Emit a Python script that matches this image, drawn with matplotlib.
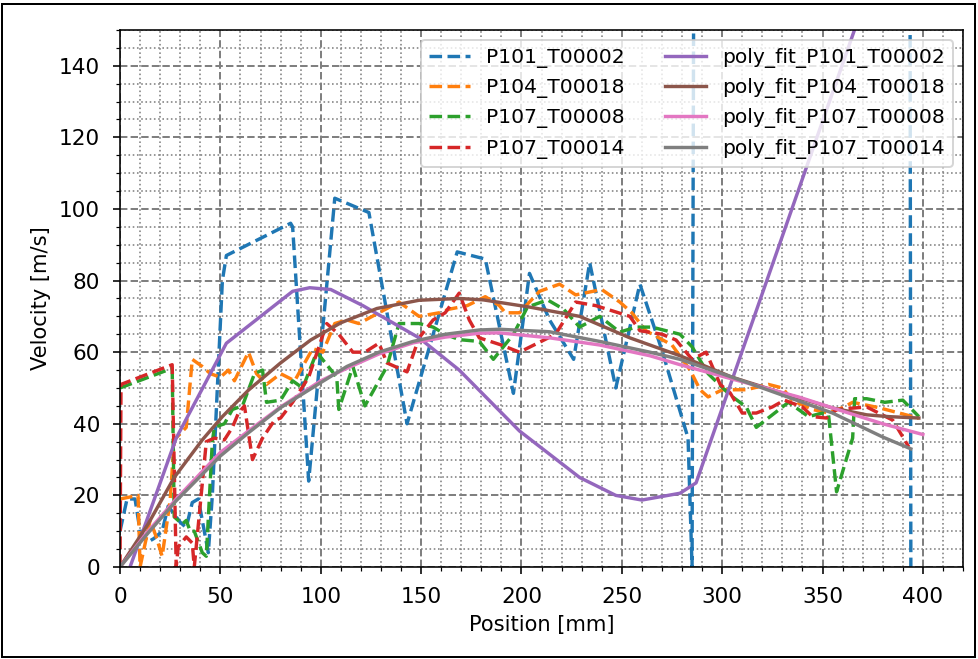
import matplotlib
matplotlib.use("Agg")
from matplotlib import pyplot as plt
from matplotlib.patches import Rectangle
from matplotlib.ticker import MultipleLocator

# measured velocity profiles (position mm, velocity m/s)
p101_t00002 = [(0, 10), (3.5, 19), (7.5, 19), (10, 10), (14, 7), (17, 8), (21, 10), (24, 17),
               (30, 12.5), (33, 11), (36, 18), (39, 19), (42, 10), (44, 4), (46, 20), (51, 80),
               (53, 87), (85, 96), (86, 95), (94, 24), (107, 103), (124, 99), (143, 40),
               (168, 88), (182, 86), (196, 48.5), (204, 82), (214, 69), (226, 58), (234, 85),
               (247, 50), (259, 79), (270, 60.5), (283, 36), (285, 0), (287, 400), (393, 400),
               (394, 0)]
p104_t00018 = [(0, 19), (9, 20), (10, 0), (15, 13), (18, 8.5), (21, 3), (25, 18.7), (27, 35.5),
               (33, 39), (36, 58), (41, 56), (45, 54), (50, 53), (54, 55), (57, 52), (64, 60),
               (68, 54), (73, 51), (80, 54), (87, 52), (96, 61), (101, 60), (107, 68), (113, 69),
               (119, 68), (129, 71), (139, 74), (149, 70), (159, 71), (164, 72), (173, 73),
               (182, 75.5), (189, 73), (192, 71), (199, 71), (209, 77), (219, 79), (227, 76),
               (240, 77.5), (249, 74), (255, 71), (262, 66), (275, 62), (284, 55), (289, 49.5),
               (293, 47.5), (300, 49.5), (312, 49.5), (323, 51), (330, 50), (335, 46.5),
               (345, 44), (353, 43), (360, 44.5), (365, 46), (378, 44.5), (395, 42), (398, 41.5)]
p107_t00008 = [(0, 50), (26, 55.5), (27, 14), (31, 12), (33, 13), (35, 10), (37, 10), (41, 4),
               (43, 3), (46, 35), (47, 39), (52, 40), (56, 44), (61, 45), (67, 54), (71, 55),
               (73, 46), (80, 46.6), (86, 52), (91, 50), (98, 60), (108, 53), (109, 44), (116, 56),
               (122, 45), (133, 56), (139, 68), (149, 68), (156, 67), (162, 65), (169, 63.5),
               (179, 63), (186, 58), (196, 65), (203, 72.6), (213, 74.6), (221, 72), (229, 67),
               (239, 70), (249, 65.6), (257, 67), (265, 67), (272, 66), (279, 65), (285, 61.5),
               (293, 54), (304, 48), (312, 44.7), (317, 39), (325, 42.5), (333, 46), (343, 42),
               (350, 43), (353, 42.5), (357, 21), (365, 36), (366, 47), (372, 47), (381, 46),
               (390, 46.6), (398, 42)]
p107_t00014 = [(0, 0), (0.5, 51), (26, 56.5), (28, 0), (29, 5.6), (33, 8.4), (36, 6.7), (37, 0),
               (43, 35), (47, 36), (52, 35.5), (56, 39), (59, 43), (62, 45), (66, 30), (71, 36),
               (77, 41), (80, 41.6), (86, 46), (94, 53), (103, 68), (109, 65), (116, 60),
               (122, 60), (129, 62.5), (133, 57), (143, 54.5), (149, 64), (156, 69), (162, 71),
               (169, 76.5), (174, 69), (179, 64), (190, 62), (199, 60), (217, 65), (227, 74),
               (237, 73), (254, 70), (259, 66), (270, 65), (277, 63.4), (285, 58), (292, 60),
               (299, 51), (304, 48.6), (310, 43), (317, 43), (325, 44.7), (331, 46.6),
               (340, 44.7), (345, 42), (352, 41.6), (357, 44), (372, 44.7), (385, 41), (393, 33.5)]

# polynomial fits of the profiles above
fit_p101_t00002 = [(0, -8), (5, 0), (28, 36), (53, 62.5), (86, 77), (94.5, 78), (105, 77.5),
                   (121, 73), (149, 64), (169, 55), (199, 38), (229, 25), (247, 20), (260, 18.7),
                   (279, 20.6), (287, 23.5), (394, 195)]
fit_p104_t00018 = [(0, 0), (14, 12), (27, 25), (41, 35.5), (51, 42), (64, 49.4), (80, 57),
                   (95, 63.4), (110, 68.2), (128, 72.2), (149, 74.5), (169, 75), (181, 74.6),
                   (204, 72.6), (229, 70), (254, 64), (279, 59), (305, 53), (330, 48.6),
                   (355, 44.4), (372, 42.5), (383, 42), (398, 41.6)]
fit_p107_t00008 = [(0, 0), (14, 10), (28, 19), (50, 32), (64, 38), (80, 44.7), (100, 52),
                   (113, 55.5), (129, 59.5), (146, 62.6), (162, 64.2), (179, 65.3), (189, 65.4),
                   (214, 64), (239, 62), (264, 59), (279, 56.5), (305, 52.5), (338, 47.5),
                   (363, 43), (380, 40), (400, 37)]
fit_p107_t00014 = [(0, 0), (14, 9.5), (28, 18.5), (50, 31), (64, 37.5), (80, 44.5), (100, 51.5),
                   (113, 56), (129, 60), (146, 63), (162, 65), (179, 66.2), (189, 66.4),
                   (214, 65.7), (239, 63), (264, 60), (279, 58), (305, 53), (330, 48),
                   (355, 43), (380, 36.3), (394, 33)]

measured = {
    "P101_T00002": p101_t00002,
    "P104_T00018": p104_t00018,
    "P107_T00008": p107_t00008,
    "P107_T00014": p107_t00014,
}
fits = {
    "poly_fit_P101_T00002": fit_p101_t00002,
    "poly_fit_P104_T00018": fit_p104_t00018,
    "poly_fit_P107_T00008": fit_p107_t00008,
    "poly_fit_P107_T00014": fit_p107_t00014,
}

plt.rcParams["xtick.labelsize"] = 10.8
plt.rcParams["ytick.labelsize"] = 10.8
plt.rcParams["xtick.major.pad"] = 6.5
plt.rcParams["ytick.major.pad"] = 6.5
plt.rcParams["axes.labelsize"] = 10.5

fig = plt.figure(figsize=(978 / 144, 659 / 144), dpi=144)
ax = fig.add_axes([0.1227, 0.1396, 0.862, 0.815])

for name, pts in measured.items():
    x, y = zip(*pts)
    ax.plot(x, y, "--", lw=1.7, label=name)
for name, pts in fits.items():
    x, y = zip(*pts)
    ax.plot(x, y, "-", lw=1.7, label=name)

ax.set_xlim(0, 420)
ax.set_ylim(0, 150)
ax.xaxis.set_major_locator(MultipleLocator(50))
ax.xaxis.set_minor_locator(MultipleLocator(10))
ax.yaxis.set_major_locator(MultipleLocator(20))
ax.yaxis.set_minor_locator(MultipleLocator(5))
ax.grid(which="major", linestyle="--", color="grey", linewidth=1.0)
ax.grid(which="minor", linestyle=":", color="grey", linewidth=0.8)
ax.set_axisbelow(True)

ax.set_xlabel("Position [mm]")
ax.set_ylabel("Velocity [m/s]")
ax.legend(ncol=2, loc="upper right", fontsize=10.15)

fig.patches.append(Rectangle((0.002, 0.003), 0.995, 0.991, transform=fig.transFigure,
                             fill=False, edgecolor="black", linewidth=1.0))

fig.savefig("out.png", dpi=144)
